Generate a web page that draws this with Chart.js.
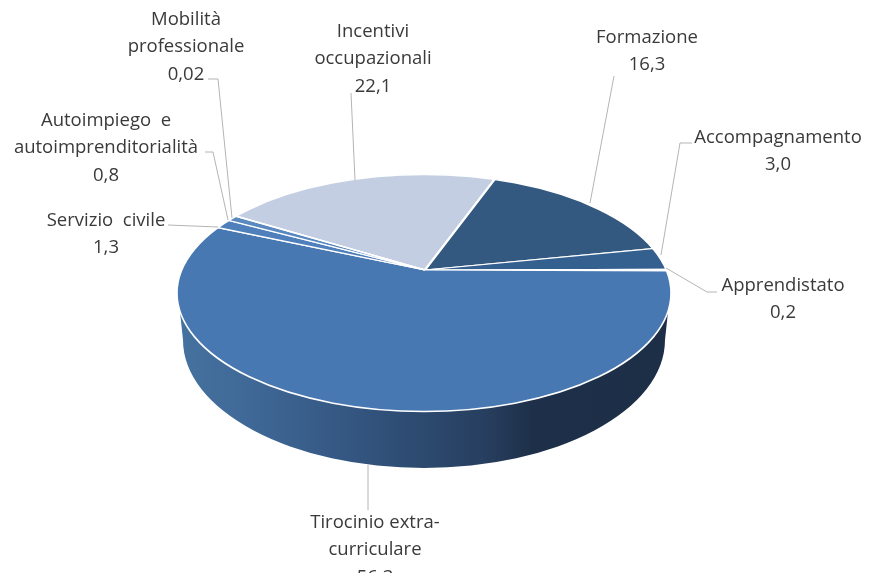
<!DOCTYPE html>
<html>
<head>
<meta charset="utf-8">
<style>
    html, body { margin: 0; padding: 0; background: #fff; overflow: hidden; }
    canvas { display: block; }
</style>
</head>
<body>
<canvas id="pieChart" width="878" height="573"></canvas>
<script src="https://cdn.jsdelivr.net/npm/chart.js@4"></script>
<script>
const categories = [
    ['Incentivi', 'occupazionali'],
    ['Formazione'],
    ['Accompagnamento'],
    ['Apprendistato'],
    ['Tirocinio extra-', 'curriculare'],
    ['Servizio  civile'],
    ['Autoimpiego  e', 'autoimprenditorialità'],
    ['Mobilità', 'professionale']
];
const values = [22.1, 16.3, 3.0, 0.2, 56.3, 1.3, 0.8, 0.02];
const sliceColors = ['#c3cee2', '#335981', '#34608f', '#c9d6e8', '#4878b2', '#4f80bb', '#5a89c0', '#9fb6d6'];

// centre x and first line y of each label, same order as categories
const labelPos = [[373, 32], [647, 38], [778, 138], [783, 286], [375, 523], [106, 221], [106, 121], [186, 20]];
const leaders = [
    [[351, 93], [355, 180]],
    [[614, 76], [590, 203]],
    [[692, 143], [680, 143], [661, 255]],
    [[717, 292], [707, 292], [666, 268]],
    [[368, 465], [368, 510]],
    [[168, 225], [218, 227]],
    [[205, 152], [213, 152], [228, 220]],
    [[208, 79], [218, 79], [232, 218]]
];

// the visible disc and the wall under it (apex of the slices sits above the disc centre)
const disc = { x: 424, y: 293, rx: 247, ry: 118.5 };
const base = { x: 424, y: 340, rx: 241, ry: 128 };
const sliceScaleX = 1.3;
const sliceScaleY = 0.624;

function formatValue(v) {
    return v.toFixed(v < 0.1 ? 2 : 1).replace('.', ',');
}

const fakePie3d = {
    id: 'fakePie3d',
    beforeDatasetsDraw(chart) {
        const ctx = chart.ctx;
        const arc = chart.getDatasetMeta(0).data[0];

        const wall = ctx.createLinearGradient(177, 0, 670, 0);
        wall.addColorStop(0, '#45729f');
        wall.addColorStop(0.15, '#3f6897');
        wall.addColorStop(0.4, '#31527b');
        wall.addColorStop(0.62, '#273f60');
        wall.addColorStop(0.72, '#1e3049');
        wall.addColorStop(1, '#1d2f47');
        ctx.save();
        ctx.fillStyle = wall;
        ctx.beginPath();
        ctx.moveTo(disc.x - disc.rx + 1, disc.y);
        ctx.lineTo(base.x - base.rx, base.y);
        ctx.ellipse(base.x, base.y, base.rx, base.ry, 0, Math.PI, 0, true);
        ctx.lineTo(disc.x + disc.rx - 1, disc.y);
        ctx.closePath();
        ctx.fill();
        ctx.restore();

        ctx.save();
        ctx.beginPath();
        ctx.ellipse(disc.x, disc.y, disc.rx, disc.ry, 0, 0, Math.PI * 2);
        ctx.clip();
        ctx.fillStyle = sliceColors[4];
        ctx.fill();
        ctx.translate(arc.x, arc.y);
        ctx.scale(sliceScaleX, sliceScaleY);
        ctx.translate(-arc.x, -arc.y);
    },
    afterDatasetsDraw(chart) {
        const ctx = chart.ctx;
        ctx.restore();

        ctx.save();
        ctx.strokeStyle = '#ffffff';
        ctx.lineWidth = 1.6;
        ctx.beginPath();
        ctx.ellipse(disc.x, disc.y, disc.rx, disc.ry, 0, 0, Math.PI * 2);
        ctx.stroke();

        ctx.strokeStyle = '#b4b4b4';
        ctx.lineWidth = 1;
        leaders.forEach(points => {
            ctx.beginPath();
            points.forEach((p, i) => (i ? ctx.lineTo(p[0], p[1]) : ctx.moveTo(p[0], p[1])));
            ctx.stroke();
        });

        ctx.fillStyle = '#3a3a3a';
        ctx.font = '18.5px "Open Sans"';
        ctx.textAlign = 'center';
        ctx.textBaseline = 'middle';
        categories.forEach((lines, i) => {
            const [x, y] = labelPos[i];
            lines.concat(formatValue(values[i])).forEach((line, n) => {
                ctx.fillText(line, x, y + n * 27.2);
            });
        });
        ctx.restore();
    }
};

new Chart(document.getElementById('pieChart'), {
    type: 'pie',
    data: {
        labels: categories,
        datasets: [{
            data: values,
            backgroundColor: sliceColors,
            borderColor: '#ffffff',
            borderWidth: 2
        }]
    },
    options: {
        responsive: false,
        animation: false,
        rotation: -59.3,
        layout: { padding: { left: 0, right: 28, top: 0, bottom: 33 } },
        plugins: { legend: { display: false }, tooltip: { enabled: false } }
    },
    plugins: [fakePie3d]
});
</script>
</body>
</html>
